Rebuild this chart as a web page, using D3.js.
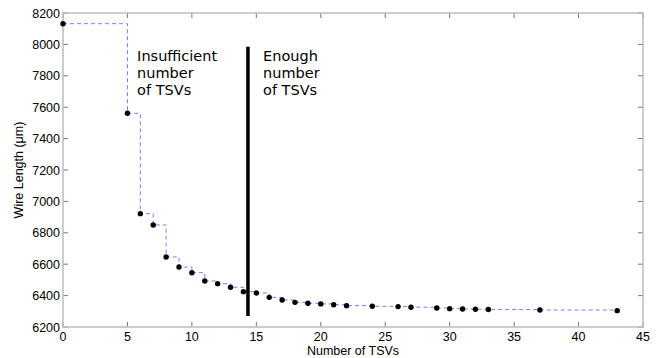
<!DOCTYPE html>
<html><head><meta charset="utf-8">
<script src="https://cdn.jsdelivr.net/npm/d3@7"></script>
<style>body{margin:0;background:#fff}svg{display:block}</style>
</head><body>
<svg id="c" width="656" height="358"></svg>
<script>
const tsvCounts = [0,5,6,7,8,9,10,11,12,13,14,15,16,17,18,19,20,21,22,24,26,27,29,30,31,32,33,37,43];
const wireLength = [8132,7561,6922,6850,6646,6582,6546,6493,6476,6453,6425,6417,6389,6372,6357,6351,6347,6342,6336,6332,6330,6326,6321,6317,6315,6313,6311,6308,6304];
const xTicks = [0,5,10,15,20,25,30,35,40,45];
const yTicks = [6200,6400,6600,6800,7000,7200,7400,7600,7800,8000,8200];
const thresholdX = 14.35;
const thresholdY = [6270, 7985];
const leftLabel = ["Insufficient","number","of TSVs"];
const rightLabel = ["Enough","number","of TSVs"];

const W=656,H=358,m={l:63,r:13,t:13,b:31};
const svg=d3.select("#c");
const x=d3.scaleLinear().domain([0,45]).range([m.l,W-m.r]);
const y=d3.scaleLinear().domain([6200,8200]).range([H-m.b,m.t]);
const data=tsvCounts.map((d,i)=>({x:d,y:wireLength[i]}));

const tickCol="#777", axCol="#bdbdbd";
const g=svg.append("g");
xTicks.forEach(t=>{
  g.append("line").attr("x1",x(t)).attr("x2",x(t)).attr("y1",y(6200)).attr("y2",y(6200)-5).attr("stroke",tickCol);
  g.append("line").attr("x1",x(t)).attr("x2",x(t)).attr("y1",y(8200)).attr("y2",y(8200)+5).attr("stroke",tickCol);
});
yTicks.forEach(t=>{
  g.append("line").attr("x1",x(0)).attr("x2",x(0)+5).attr("y1",y(t)).attr("y2",y(t)).attr("stroke",tickCol);
  g.append("line").attr("x1",x(45)).attr("x2",x(45)-5).attr("y1",y(t)).attr("y2",y(t)).attr("stroke",tickCol);
});
g.append("rect").attr("x",x(0)).attr("y",y(8200)).attr("width",x(45)-x(0)).attr("height",y(6200)-y(8200))
 .attr("fill","none").attr("stroke",axCol).attr("stroke-width",1.5);

const lf="'Liberation Sans',Arial,sans-serif";
svg.append("g").selectAll("text").data(xTicks).join("text")
 .attr("x",d=>x(d)).attr("y",y(6200)+14).attr("text-anchor","middle")
 .attr("font-family",lf).attr("font-size",12.5).text(d=>d);
svg.append("g").selectAll("text").data(yTicks).join("text")
 .attr("x",x(0)-3).attr("y",d=>y(d)+4.5).attr("text-anchor","end")
 .attr("font-family",lf).attr("font-size",12.5).text(d=>d);

svg.append("text").attr("x",(x(0)+x(45))/2).attr("y",H-3).attr("text-anchor","middle")
 .attr("font-family",lf).attr("font-size",12.5).text("Number of TSVs");
svg.append("text").attr("transform",`translate(${23},${(y(6200)+y(8200))/2}) rotate(-90)`)
 .attr("text-anchor","middle").attr("font-family",lf).attr("font-size",12.5).text("Wire Length (μm)");

svg.append("path").datum(data)
 .attr("d",d3.line().x(d=>x(d.x)).y(d=>y(d.y)).curve(d3.curveStepAfter))
 .attr("fill","none").attr("stroke","#7b7bff").attr("stroke-width",1).attr("stroke-dasharray","4,3");

svg.append("g").selectAll("circle").data(data).join("circle")
 .attr("cx",d=>x(d.x)).attr("cy",d=>y(d.y)).attr("r",2.7).attr("fill","#000");

svg.append("line").attr("x1",x(thresholdX)).attr("x2",x(thresholdX))
 .attr("y1",y(thresholdY[0])).attr("y2",y(thresholdY[1])).attr("stroke","#000").attr("stroke-width",3.5);

const af="'DejaVu Sans',sans-serif";
function label(lines,xv,yv){
  const t=svg.append("text").attr("font-family",af).attr("font-size",14.5).attr("fill","#000");
  lines.forEach((s,i)=>t.append("tspan").attr("x",x(xv)).attr("y",y(yv)+i*17).text(s));
}
label(leftLabel,5.75,7894);
label(rightLabel,15.52,7894);
</script>
</body></html>
